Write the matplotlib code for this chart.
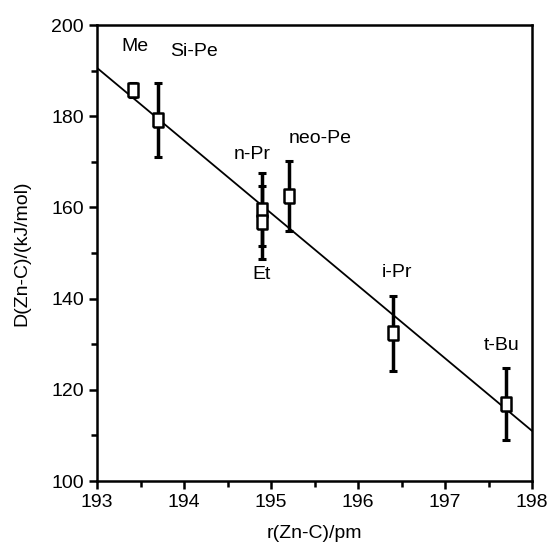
import matplotlib
matplotlib.use('Agg')
import matplotlib.pyplot as plt
from matplotlib.ticker import MultipleLocator

plt.rcParams['font.family'] = ['Liberation Sans', 'DejaVu Sans']

# data
names = ['Me', 'Si-Pe', 'n-Pr', 'Et', 'neo-Pe', 'i-Pr', 't-Bu']
r_zn_c = [193.41, 193.70, 194.90, 194.90, 195.21, 196.40, 197.70]
d_zn_c = [185.7, 179.2, 159.5, 156.7, 162.5, 132.4, 116.9]
d_err = [1.5, 8.1, 8.0, 8.0, 7.6, 8.2, 7.8]

# fitted straight line
fit_x = [193.0, 198.0]
fit_y = [190.6, 111.0]

# label positions (data coords)
label_x = [193.44, 194.11, 194.78, 194.89, 195.56, 196.45, 197.65]
label_y = [195.2, 194.1, 171.5, 145.2, 175.1, 145.7, 129.8]

fig = plt.figure(figsize=(5.5, 5.44), dpi=100)
ax = fig.add_axes([0.1764, 0.1158, 0.7909, 0.8382])

ax.plot(fit_x, fit_y, color='black', lw=1.3)

box = [(-0.37, -0.5), (0.37, -0.5), (0.37, 0.5), (-0.37, 0.5), (-0.37, -0.5)]
ax.errorbar(r_zn_c, d_zn_c, yerr=d_err, fmt='none', ecolor='black',
            elinewidth=2.5, capsize=3, capthick=2.2)
ax.plot(r_zn_c, d_zn_c, linestyle='none', marker=box, markersize=10,
        markerfacecolor='white', markeredgecolor='black', markeredgewidth=1.8)

for name, lx, ly in zip(names, label_x, label_y):
    ax.text(lx, ly, name, fontsize=14, ha='center', va='center')

ax.set_xlim(193, 198)
ax.set_ylim(100, 200)
ax.xaxis.set_major_locator(MultipleLocator(1))
ax.xaxis.set_minor_locator(MultipleLocator(0.5))
ax.yaxis.set_major_locator(MultipleLocator(20))
ax.yaxis.set_minor_locator(MultipleLocator(10))
ax.tick_params(which='both', direction='out', top=False, right=False,
               width=1.8, labelsize=14)
ax.tick_params(which='major', length=6)
ax.tick_params(which='minor', length=4)
for s in ax.spines.values():
    s.set_linewidth(1.8)

ax.set_xlabel('r(Zn-C)/pm', fontsize=14, labelpad=10)
ax.set_ylabel('D(Zn-C)/(kJ/mol)', fontsize=14, labelpad=15)

fig.savefig('out.png', dpi=100)
